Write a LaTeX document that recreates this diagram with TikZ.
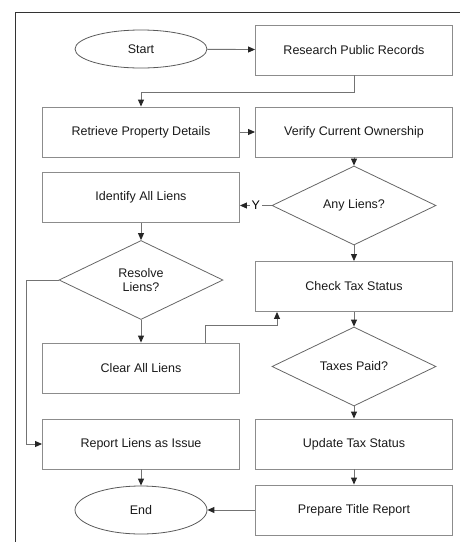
\documentclass[tikz,border=0pt]{standalone}
\usepackage{fontspec}
\setmainfont{Liberation Sans}
\usetikzlibrary{shapes.geometric,arrows.meta}

\begin{document}
\begin{tikzpicture}[x=1pt,y=-1pt,
  box/.style={draw=black!45,line width=0.9pt,minimum width=197pt,minimum height=50pt,inner sep=0pt,font=\fontsize{12.5}{14.5}\selectfont,text=black!90},
  term/.style={ellipse,draw=black!65,line width=0.8pt,minimum width=132pt,inner sep=0pt,font=\fontsize{12.5}{14.5}\selectfont,text=black!90},
  decision/.style={diamond,aspect=2,draw=black!60,line width=0.8pt,minimum width=164pt,minimum height=79pt,inner sep=0pt,align=center,font=\fontsize{12.5}{14.5}\selectfont,text=black!90},
  flow/.style={draw=black!55,line width=0.9pt,-{Triangle[length=7pt,width=6pt,color=black!85]}}]

\useasboundingbox (0,0) rectangle (460,542);
\draw[black!80,line width=0.8pt] (460,12) -- (15,12) -- (15,542);

\node[term,minimum height=38pt] (start) at (141,49) {Start};
\node[box] (research) at (354,50) {Research Public Records};
\node[box] (retrieve) at (141,132) {Retrieve Property Details};
\node[box] (verify) at (354,132) {Verify Current Ownership};
\node[box] (identify) at (141,197.5) {Identify All Liens};
\node[decision] (anyliens) at (354,205.5) {Any Liens?};
\node[box] (check) at (354,286.5) {Check Tax Status};
\node[decision] (resolve) at (141,280) {Resolve\\Liens?};
\node[box] (clear) at (141,368) {Clear All Liens};
\node[decision] (taxes) at (354,366.5) {Taxes Paid?};
\node[box] (report) at (141,444) {Report Liens as Issue};
\node[box] (update) at (354,444) {Update Tax Status};
\node[term,minimum height=48pt] (end) at (141,510) {End};
\node[box] (prepare) at (354,510) {Prepare Title Report};

\draw[flow] (start) -- (research);
\draw[flow] (research.south) -- ++(0,17) -| (retrieve.north);
\draw[flow] (retrieve) -- (verify);
\draw[flow] (verify) -- (anyliens);
\draw[flow] (anyliens.west) -- node[fill=white,inner sep=2pt,font=\fontsize{12.5}{14.5}\selectfont]{Y} (anyliens.west -| identify.east);
\draw[flow] (anyliens) -- (check);
\draw[flow] (identify) -- (resolve);
\draw[flow] (resolve) -- (clear);
\draw[flow] (resolve.west) -- ++(-32,0) |- (report.west);
\draw[flow] ([xshift=64pt]clear.north) -- ++(0,-17) -| ([xshift=-77pt]check.south);
\draw[flow] (check) -- (taxes);
\draw[flow] (taxes) -- (update);
\draw[flow] (report) -- (end);
\draw[flow] (update) -- (prepare);
\draw[flow] (prepare) -- (end);

\end{tikzpicture}
\end{document}
